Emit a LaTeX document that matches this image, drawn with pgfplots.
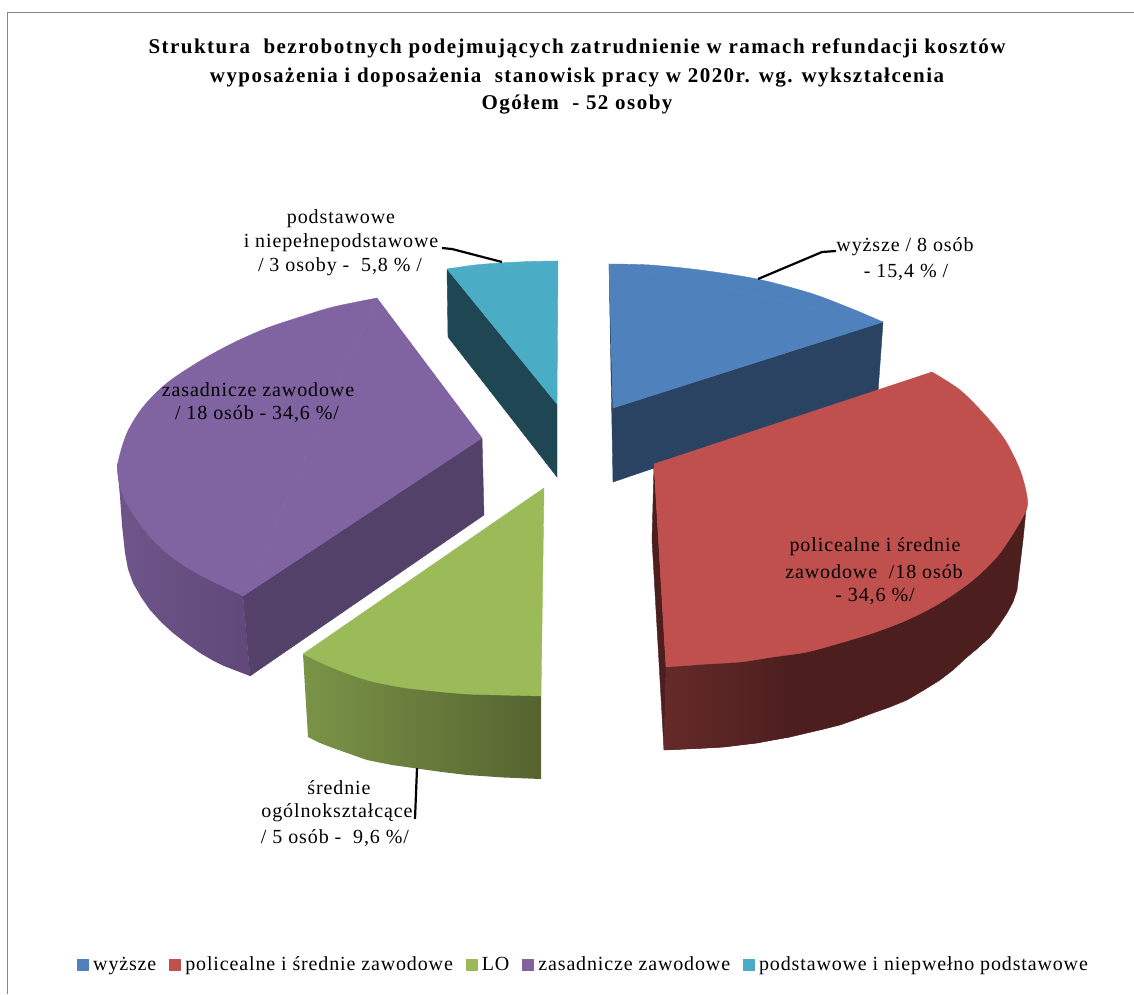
\documentclass[border=0pt]{standalone}
\usepackage{pgfplots}
\pgfplotsset{compat=1.18}
\usepackage{fontspec}
\setmainfont{Liberation Serif}
\newfontfamily\lab[LetterSpace=4.5]{Liberation Serif}
\newfontfamily\leg[LetterSpace=4.3]{Liberation Serif}
\newfontfamily\ttl[LetterSpace=7]{Liberation Serif Bold}
\definecolor{cB}{HTML}{4F81BD}\definecolor{cBd}{HTML}{2A4362}
\definecolor{cR}{HTML}{C0504D}\definecolor{cRd}{HTML}{4C1F1E}\definecolor{cRl}{HTML}{652A29}
\definecolor{cG}{HTML}{9BBB59}\definecolor{cGl}{HTML}{7A9447}\definecolor{cGd}{HTML}{566330}
\definecolor{cP}{HTML}{8064A2}\definecolor{cPd}{HTML}{54416A}\definecolor{cPl}{HTML}{6F5589}\definecolor{cPm}{HTML}{60487A}
\definecolor{cT}{HTML}{4BACC6}\definecolor{cTd}{HTML}{1F4753}
\definecolor{frm}{HTML}{868686}
\tikzset{
  lab/.style={font=\fontsize{20}{24}\selectfont\lab, anchor=center, inner sep=0pt, text=black},
  ttlst/.style={font=\fontsize{21}{25}\selectfont\ttl, anchor=center, inner sep=0pt},
}
\begin{document}
\begin{tikzpicture}
\begin{axis}[
  scale only axis, width=1134pt, height=994pt,
  xmin=0, xmax=1134, ymin=0, ymax=994, y dir=reverse,
  axis lines=none, clip=true,
  legend columns=5,
  legend style={draw=none, fill=none, at={(0.0679,0.03)}, anchor=west,
    font=\fontsize{20}{23}\selectfont\leg, inner sep=0pt,
    /tikz/every even column/.append style={column sep=11pt},
    /tikz/every odd column/.append style={column sep=3pt}},
  legend cell align=left,
  legend image post style={only marks, mark=square*, mark size=5.5pt},
  every axis plot/.append style={forget plot, line join=round},
]
\path (axis cs:0,0) rectangle (axis cs:1134,994);
% frame
\addplot[frm, line width=1.6pt] coordinates {(7.5,994) (7.5,12.5) (1134,12.5)};

% teal slice
\addplot[fill=cTd, draw=cTd] coordinates {(447,269) (448,337) (557,477) (557,404)} --cycle;
\addplot[fill=cT, draw=cT] coordinates {(447,269) (558,261) (557,404)} --cycle;
\addplot[smooth, fill=cT, draw=cT] coordinates {(447,269) (475,265) (500,263) (530,261.5) (558,261)} --cycle;

% blue slice
\addplot[fill=cBd, draw=cBd] coordinates {(609,264) (613,482) (878,392) (883,322) (613,408)} --cycle;
\addplot[fill=cB, draw=cB] coordinates {(609,264) (883,322) (613,408)} --cycle;
\addplot[smooth, fill=cB, draw=cB] coordinates {(609,264) (650,265) (700,270) (757,279) (810,293) (850,308) (883,322)} --cycle;

% purple slice
\addplot[left color=cPl, right color=cPm, draw=none] coordinates {(117,463) (120,497) (122,525) (125,553) (128,569) (133,583) (141,597) (150,610) (161,622) (173,633) (186,643) (200,653) (212,660) (224,666) (237,671) (250,676) (243,596)} --cycle;
\addplot[fill=cPd, draw=cPd] coordinates {(482,438) (243,596) (250,676) (484,515)} --cycle;
\addplot[fill=cP, draw=cP] coordinates {(377,298) (243,596) (482,438)} --cycle;
\addplot[smooth, fill=cP, draw=cP] coordinates {(377,298) (333,307) (300,317) (267,328) (233,343) (200,361) (167,383) (143,407) (127,433) (118,463) (119,482) (125,500) (137,520) (153,540) (173,558) (200,575) (243,596)} --cycle;

% green slice
\addplot[left color=cGl, right color=cGd, draw=none] coordinates {(303,654) (308,737) (320,743) (333,748) (350,754) (367,760) (392,765) (417,768.5) (442,772) (467,775) (504,777.5) (541,779) (541,696)} --cycle;
\addplot[fill=cG, draw=cG] coordinates {(544,488) (303,654) (541,696)} --cycle;
\addplot[smooth, fill=cG, draw=cG] coordinates {(303,654) (333,668) (367,680) (400,687) (433,691) (467,694) (500,695) (541,696)} --cycle;

% red slice
\addplot[fill=cRd, draw=cRd] coordinates {(654,464) (666,667) (664,750) (652,540)} --cycle;
\addplot[fill=cRd, draw=cRd] coordinates {(1027,497) (1025,520) (1023,540) (1020,565) (1017,590) (1013,602) (1007,613) (999,625) (990,637) (978,648) (966,658) (953,670) (940,680) (924,690) (907,700) (890,707) (873,713) (857,719) (840,725) (824,729) (807,733) (790,737) (773,740) (757,743) (740,745) (724,747) (707,748) (686,749) (664,750) (666,667)} --cycle;
\addplot[left color=cRl, right color=cRd, draw=none] coordinates {(664,750) (686,749) (707,748) (724,747) (740,745) (757,743) (773,740) (790,737) (790,650) (666,660)} --cycle;
\addplot[fill=cR, draw=cR] coordinates {(654,464) (932,372) (666,667)} --cycle;
\addplot[smooth, fill=cR, draw=cR] coordinates {(932,372) (960,390) (985,415) (1005,440) (1020,470) (1027,497) (1025,513) (1000,553) (973,580) (940,603) (907,620) (873,633) (840,643) (807,652) (773,657) (740,662) (707,664) (666,667)} --cycle;

% leader lines
\addplot[black, line width=2.2pt] coordinates {(442,248) (452,249) (502,262)};
\addplot[black, line width=2.2pt] coordinates {(836,251) (822,252) (758,279)};
\addplot[black, line width=2.2pt] coordinates {(417,768) (415,819)};

% legend
\addlegendimage{color=cB}
\addlegendentry{wyższe}
\addlegendimage{color=cR}
\addlegendentry{policealne i średnie zawodowe}
\addlegendimage{color=cG}
\addlegendentry{LO}
\addlegendimage{color=cP}
\addlegendentry{zasadnicze zawodowe}
\addlegendimage{color=cT}
\addlegendentry{podstawowe i niepwełno podstawowe}

% texts
\node[ttlst] at (axis cs:577,48) {Struktura~ bezrobotnych podejmujących zatrudnienie w ramach refundacji kosztów};
\node[ttlst] at (axis cs:577,78) {wyposażenia i doposażenia~ stanowisk pracy w 2020r. wg. wykształcenia};
\node[ttlst] at (axis cs:577,105) {Ogółem~ - 52 osoby};

\node[lab] at (axis cs:341,219) {podstawowe};
\node[lab] at (axis cs:341,243) {i niepełnepodstawowe};
\node[lab] at (axis cs:340,267) {/ 3 osoby -~ 5,8 \% /};
\node[lab] at (axis cs:905,247) {wyższe / 8 osób};
\node[lab] at (axis cs:906,272) {- 15,4 \% /};
\node[lab] at (axis cs:258,390) {zasadnicze zawodowe};
\node[lab] at (axis cs:257,414) {/ 18 osób - 34,6 \%/};
\node[lab] at (axis cs:875,547) {policealne i średnie};
\node[lab] at (axis cs:874,572) {zawodowe~ /18 osób};
\node[lab] at (axis cs:875,596) {- 34,6 \%/};
\node[lab] at (axis cs:339,788) {średnie};
\node[lab] at (axis cs:337,813) {ogólnokształcące};
\node[lab] at (axis cs:335,838) {/ 5 osób -~ 9,6 \%/};
\end{axis}
\end{tikzpicture}
\end{document}
